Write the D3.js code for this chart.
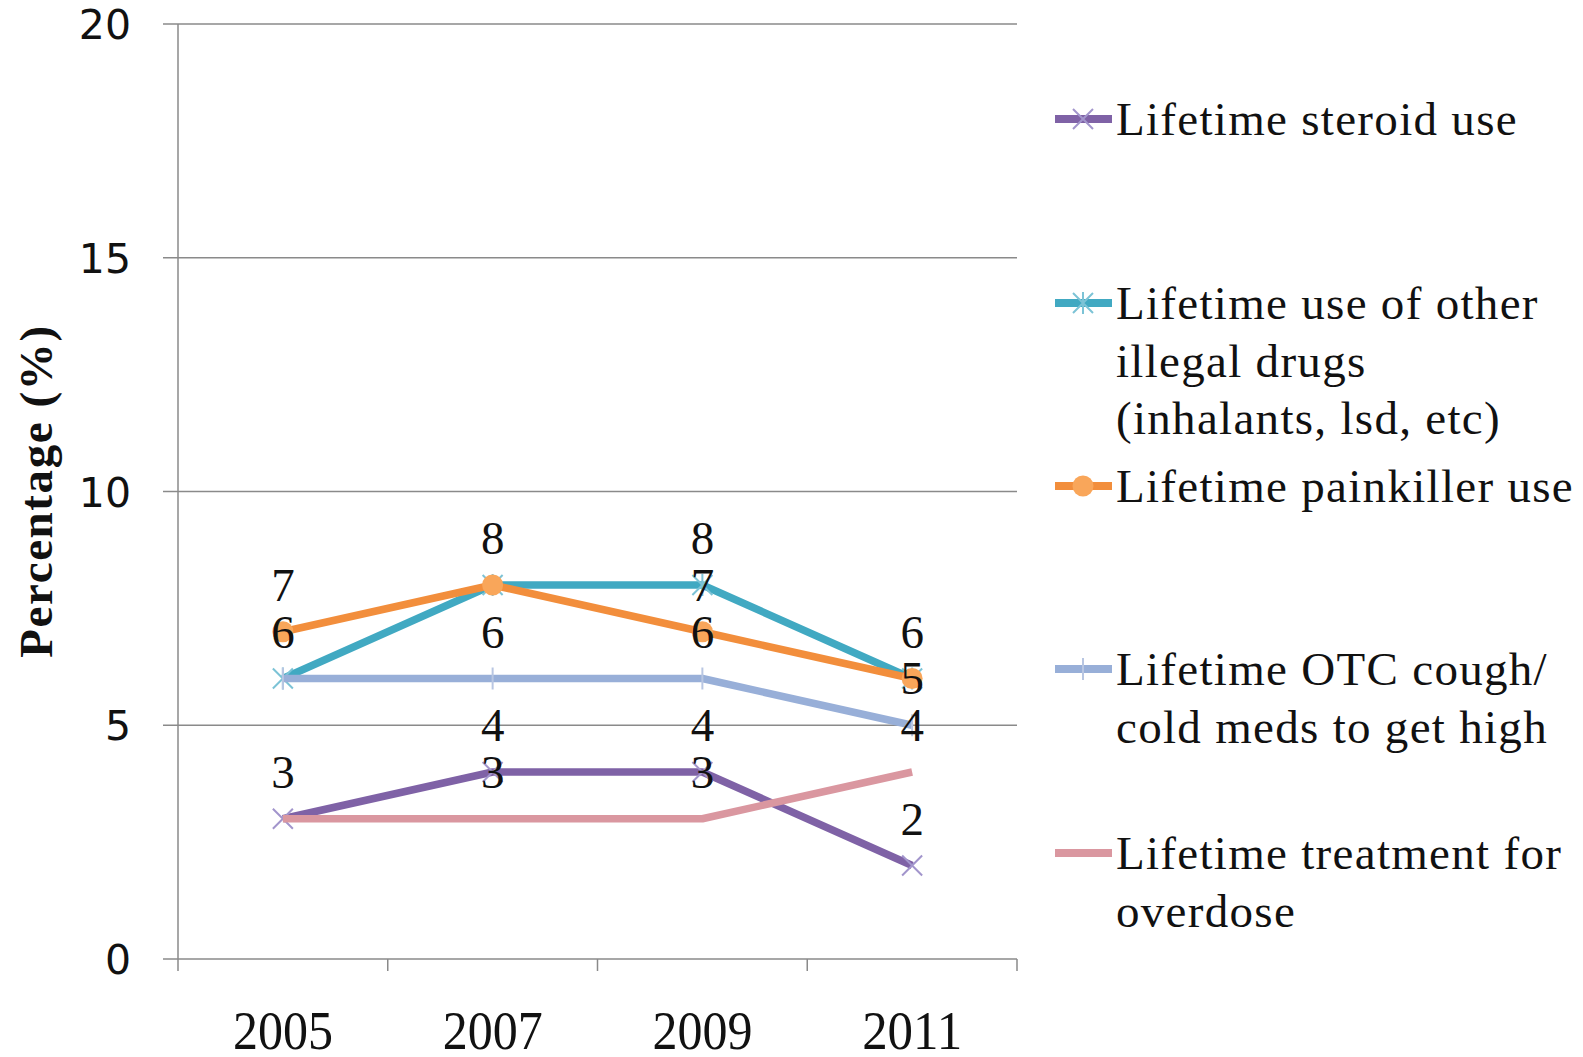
<!DOCTYPE html>
<html><head><meta charset="utf-8">
<script src="https://cdn.jsdelivr.net/npm/d3@7"></script>
<style>body{margin:0;background:#fff;}svg{display:block;}</style>
</head><body>
<svg id="chart" width="1583" height="1057"></svg>
<script>
const years = ["2005", "2007", "2009", "2011"];
const yTicks = [0, 5, 10, 15, 20];
const seriesNames = [
  ["Lifetime steroid use"],
  ["Lifetime use of other", "illegal drugs", "(inhalants, lsd, etc)"],
  ["Lifetime painkiller use"],
  ["Lifetime OTC cough/", "cold meds to get high"],
  ["Lifetime treatment for", "overdose"]
];
const steroid = [3, 4, 4, 2];
const otherDrugs = [6, 8, 8, 6];
const painkiller = [7, 8, 7, 6];
const otcCough = [6, 6, 6, 5];
const overdose = [3, 3, 3, 4];
const seriesValues = [steroid, otherDrugs, painkiller, otcCough, overdose];
const colors = ["#7F62A6", "#41A9C2", "#F28E3C", "#98AFD8", "#DA97A0"];
const markerColors = ["#A295CC", "#7CC3D6", "#F9A65A", "#B8C6E2", "#E6B3B8"];
const markerTypes = ["x", "star", "circle", "plus", "dash"];

(function () {
const svg = d3.select("#chart");
const pLeft = 178, pRight = 1017, pTop = 24, pBottom = 959;
const x = d3.scaleBand().domain(years).range([pLeft, pRight]).paddingInner(0).paddingOuter(0);
const y = d3.scaleLinear().domain([0, 20]).range([pBottom, pTop]);
const cx = d => x(d) + x.bandwidth() / 2;

// gridlines
svg.append("g").selectAll("line").data(yTicks).join("line")
  .attr("x1", pLeft - 15).attr("x2", pRight)
  .attr("y1", d => y(d)).attr("y2", d => y(d))
  .attr("stroke", "#8a8a8a").attr("stroke-width", 1.5);

// y axis line
svg.append("line").attr("x1", pLeft).attr("x2", pLeft).attr("y1", pTop).attr("y2", pBottom + 12)
  .attr("stroke", "#8a8a8a").attr("stroke-width", 1.5);

// x axis ticks at band boundaries
const bounds = years.map(d => x(d)).concat([pRight]);
svg.append("g").selectAll("line").data(bounds.slice(1)).join("line")
  .attr("x1", d => d).attr("x2", d => d).attr("y1", pBottom).attr("y2", pBottom + 12)
  .attr("stroke", "#8a8a8a").attr("stroke-width", 1.5);

// y tick labels
svg.append("g").selectAll("text").data(yTicks).join("text")
  .attr("x", 131).attr("y", d => y(d) + 15)
  .attr("text-anchor", "end")
  .attr("font-family", "DejaVu Sans").attr("font-size", 41).attr("fill", "#111")
  .text(d => d);

// x tick labels
svg.append("g").selectAll("text").data(years).join("text")
  .attr("x", d => cx(d)).attr("y", 1049)
  .attr("text-anchor", "middle")
  .attr("font-family", "Liberation Serif").attr("font-size", 54).attr("fill", "#111")
  .attr("textLength", 100).attr("lengthAdjust", "spacingAndGlyphs")
  .text(d => d);

// y axis title
svg.append("text")
  .attr("transform", "translate(52,491) rotate(-90)")
  .attr("text-anchor", "middle")
  .attr("font-family", "Liberation Serif").attr("font-weight", "bold")
  .attr("font-size", 47).attr("letter-spacing", 1.6).attr("fill", "#111")
  .text("Percentage (%)");

function drawMarker(g, type, px, py, color) {
  if (type === "x" || type === "star") {
    g.append("path").attr("d", `M${px-10},${py-10}L${px+10},${py+10}M${px-10},${py+10}L${px+10},${py-10}` + (type === "star" ? `M${px},${py-11}L${px},${py+11}` : ""))
      .attr("stroke", color).attr("stroke-width", 2).attr("fill", "none");
  } else if (type === "circle") {
    g.append("circle").attr("cx", px).attr("cy", py).attr("r", 10.5).attr("fill", color);
  } else if (type === "plus") {
    g.append("path").attr("d", `M${px},${py-11}L${px},${py+11}`)
      .attr("stroke", color).attr("stroke-width", 2);
  }
}

const line = d3.line().x((d, i) => cx(years[i])).y(d => y(d));

seriesValues.forEach((vals, si) => {
  const g = svg.append("g");
  g.append("path").datum(vals).attr("d", line)
    .attr("fill", "none").attr("stroke", colors[si]).attr("stroke-width", 7.5)
    .attr("stroke-linejoin", "round");
  vals.forEach((v, i) => drawMarker(g, markerTypes[si], cx(years[i]), y(v), markerColors[si]));
});

// data labels (identical labels at the same spot are drawn once)
const labels = [];
const seen = new Set();
seriesValues.forEach(vals => vals.forEach((v, i) => {
  const key = years[i] + ":" + v;
  if (!seen.has(key)) { seen.add(key); labels.push({ year: years[i], v }); }
}));
svg.append("g").selectAll("text").data(labels).join("text")
  .attr("x", d => cx(d.year)).attr("y", d => y(d.v) - 47 + 16)
  .attr("text-anchor", "middle")
  .attr("font-family", "Liberation Serif").attr("font-size", 47).attr("fill", "#111")
  .text(d => d.v);

// legend
const legendY = [119, 303, 486, 669, 853];
const lineH = 57.5;
seriesNames.forEach((lines, si) => {
  const g = svg.append("g");
  const ly = legendY[si];
  g.append("line").attr("x1", 1055).attr("x2", 1112).attr("y1", ly).attr("y2", ly)
    .attr("stroke", colors[si]).attr("stroke-width", 8);
  drawMarker(g, markerTypes[si], 1083, ly, markerColors[si]);
  lines.forEach((t, li) => {
    g.append("text").attr("x", 1116).attr("y", ly + 16 + li * lineH)
      .attr("font-family", "Liberation Serif").attr("font-size", 47)
      .attr("letter-spacing", 1.3).attr("fill", "#111")
      .text(t);
  });
});
})();
</script>
</body></html>
